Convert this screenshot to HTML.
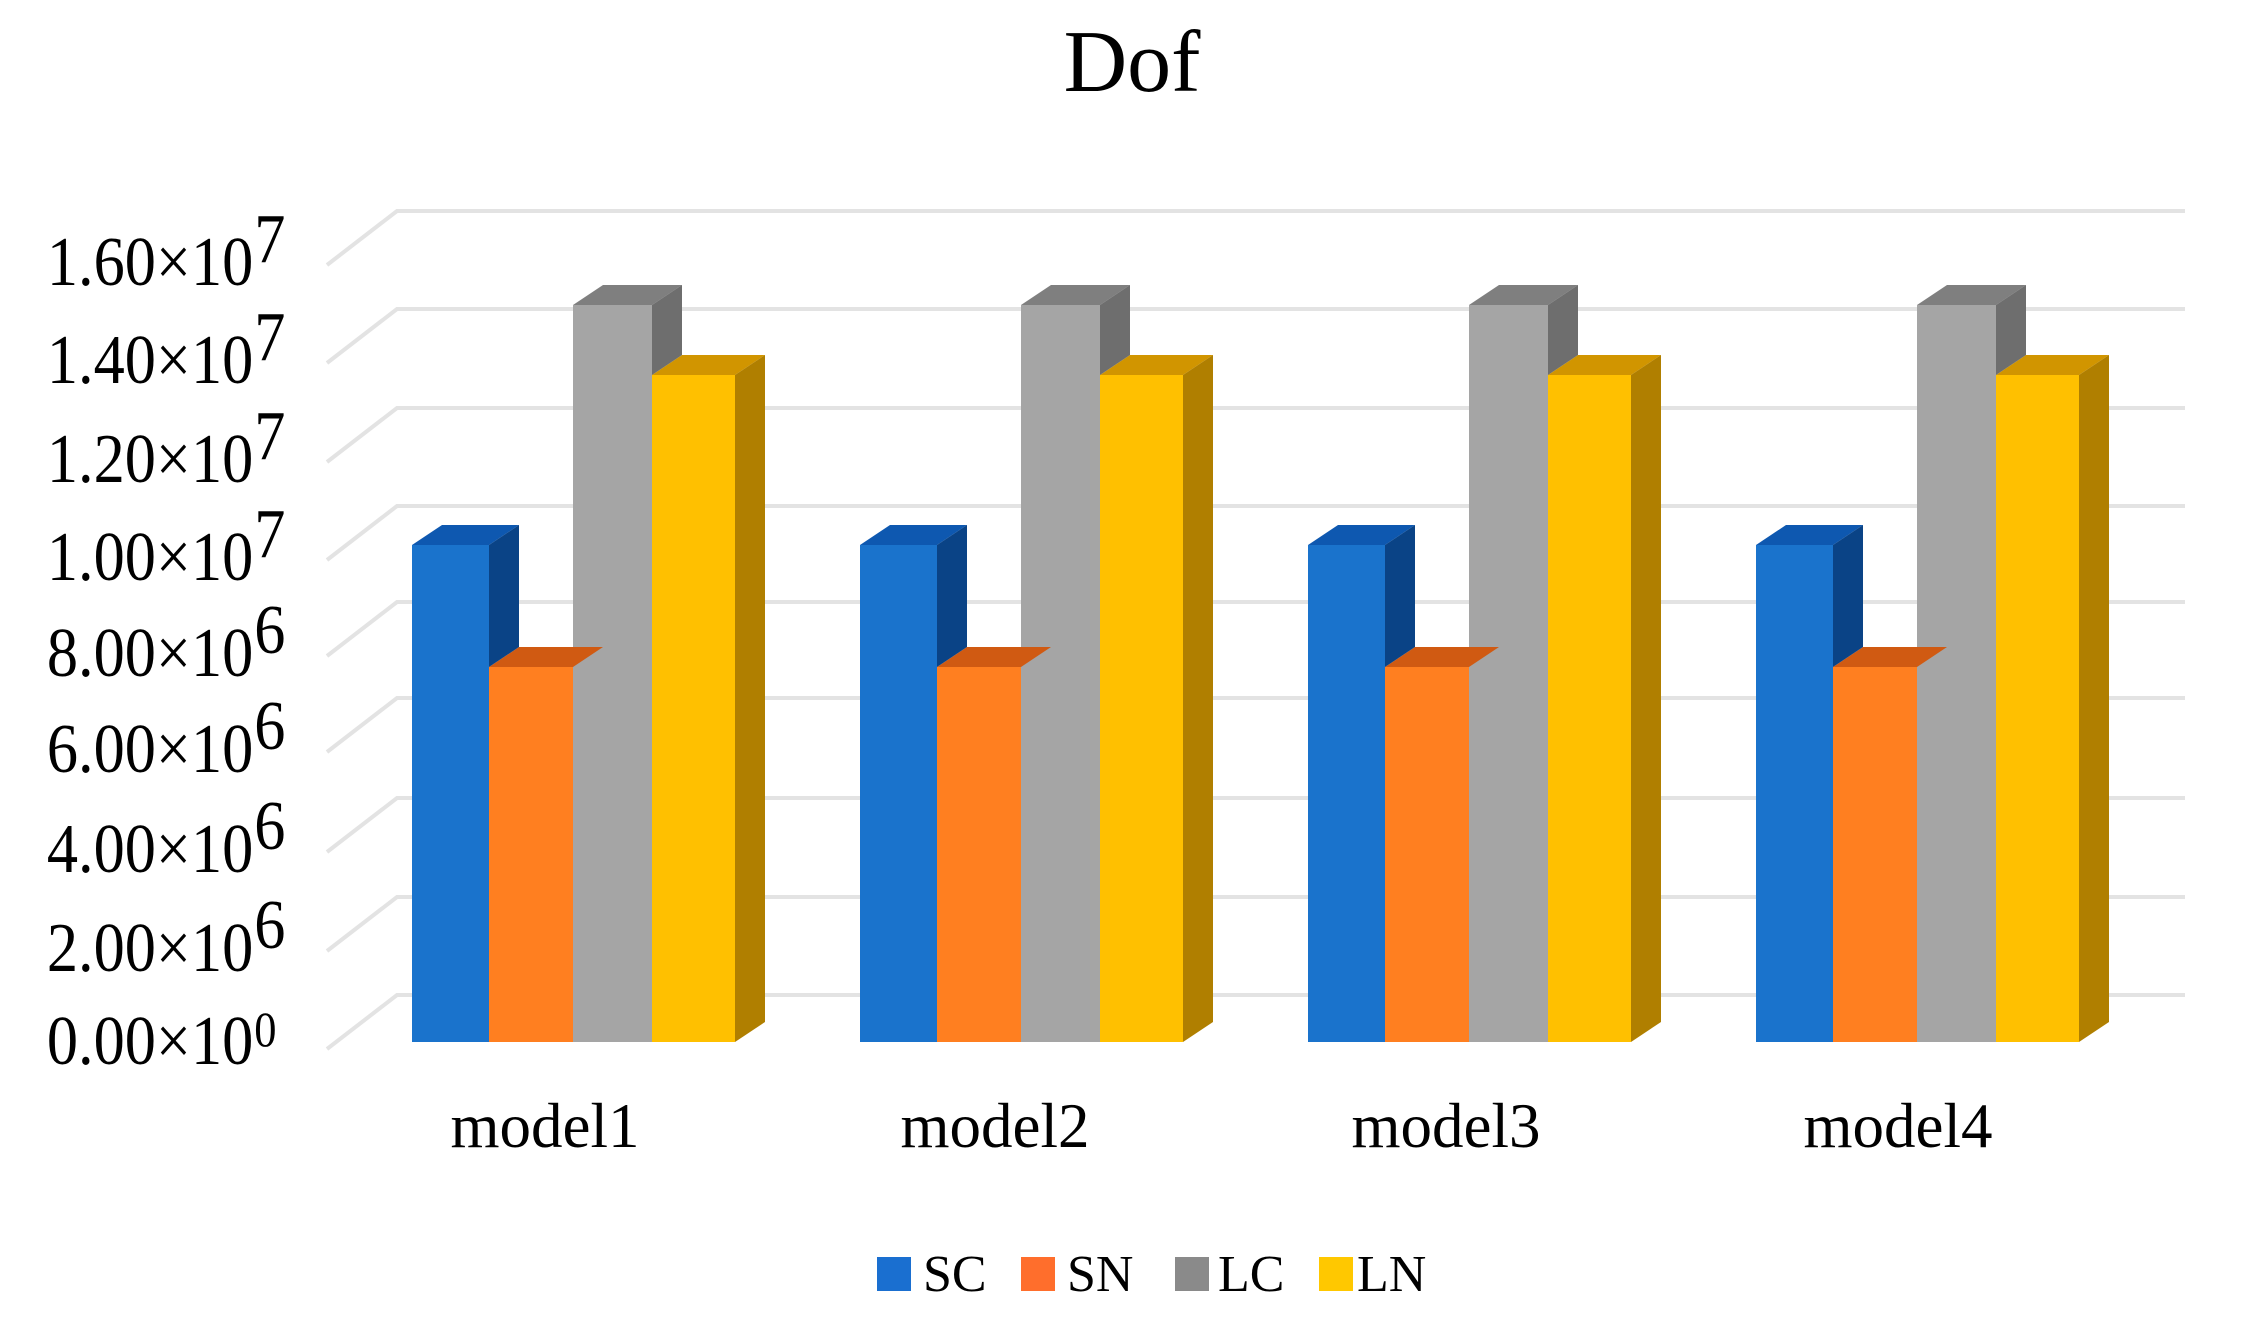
<!DOCTYPE html>
<html><head><meta charset="utf-8"><style>
html,body{margin:0;padding:0;background:#fff;}
svg{display:block;}
text{font-family:"Liberation Serif",serif;fill:#000;}
</style></head><body>
<svg width="2250" height="1342" viewBox="0 0 2250 1342" xmlns="http://www.w3.org/2000/svg">
<text x="1132" y="91" font-size="88" text-anchor="middle">Dof</text>
<g stroke="#e3e3e3" stroke-width="4" fill="none">
<polyline points="327,265 397,211 2185,211"/>
<polyline points="327,363 397,309 2185,309"/>
<polyline points="327,462 397,408 2185,408"/>
<polyline points="327,560 397,506 2185,506"/>
<polyline points="327,656 397,602 2185,602"/>
<polyline points="327,752 397,698 2185,698"/>
<polyline points="327,852 397,798 2185,798"/>
<polyline points="327,951 397,897 2185,897"/>
<polyline points="327,1049 397,995 2185,995"/>
</g>
<g transform="translate(280,0) scale(0.89,1) translate(-280,0)">
<g font-size="70" text-anchor="end">
<text x="250" y="285">1.60×10</text><text x="251" y="262" text-anchor="start">7</text>
<text x="250" y="383">1.40×10</text><text x="251" y="360" text-anchor="start">7</text>
<text x="250" y="482">1.20×10</text><text x="251" y="459" text-anchor="start">7</text>
<text x="250" y="580">1.00×10</text><text x="251" y="557" text-anchor="start">7</text>
<text x="250" y="676">8.00×10</text><text x="251" y="653" text-anchor="start">6</text>
<text x="250" y="772">6.00×10</text><text x="251" y="749" text-anchor="start">6</text>
<text x="250" y="872">4.00×10</text><text x="251" y="849" text-anchor="start">6</text>
<text x="250" y="971">2.00×10</text><text x="251" y="948" text-anchor="start">6</text>
<text x="250" y="1064">0.00×10</text><text x="251" y="1046" text-anchor="start" font-size="50">0</text>
</g>
</g>
<defs>
<g id="grp">
<polygon points="240,375 270,355 353,355 323,375" fill="#d19500"/>
<polygon points="323,375 353,355 353,1022 323,1042" fill="#b07f00"/>
<rect x="240" y="375" width="83" height="667" fill="#ffc000"/>
<polygon points="161,305 191,285 270,285 240,305" fill="#7f7f7f"/>
<polygon points="240,305 270,285 270,355 240,375" fill="#6e6e6e"/>
<rect x="161" y="305" width="79" height="737" fill="#a5a5a5"/>
<polygon points="77,667 107,647 191,647 161,667" fill="#d05a12"/>
<rect x="77" y="667" width="84" height="375" fill="#ff7f20"/>
<polygon points="0,545 30,525 107,525 77,545" fill="#0e58b0"/>
<polygon points="77,545 107,525 107,647 77,667" fill="#0a4386"/>
<rect x="0" y="545" width="77" height="497" fill="#1a73cc"/>
</g>
</defs>
<use href="#grp" x="412"/>
<use href="#grp" x="860"/>
<use href="#grp" x="1308"/>
<use href="#grp" x="1756"/>
<g font-size="63" text-anchor="middle">
<text x="545" y="1147">model1</text>
<text x="995" y="1147">model2</text>
<text x="1446" y="1147">model3</text>
<text x="1898" y="1147">model4</text>
</g>
<g font-size="52">
<rect x="877" y="1257" width="34" height="34" fill="#1a6fd0"/><text x="923" y="1291">SC</text>
<rect x="1021" y="1257" width="34" height="34" fill="#ff6e2c"/><text x="1067" y="1291">SN</text>
<rect x="1175" y="1257" width="34" height="34" fill="#8a8a8a"/><text x="1218" y="1291">LC</text>
<rect x="1319" y="1257" width="34" height="34" fill="#ffc800"/><text x="1357" y="1291">LN</text>
</g>
</svg>
</body></html>
